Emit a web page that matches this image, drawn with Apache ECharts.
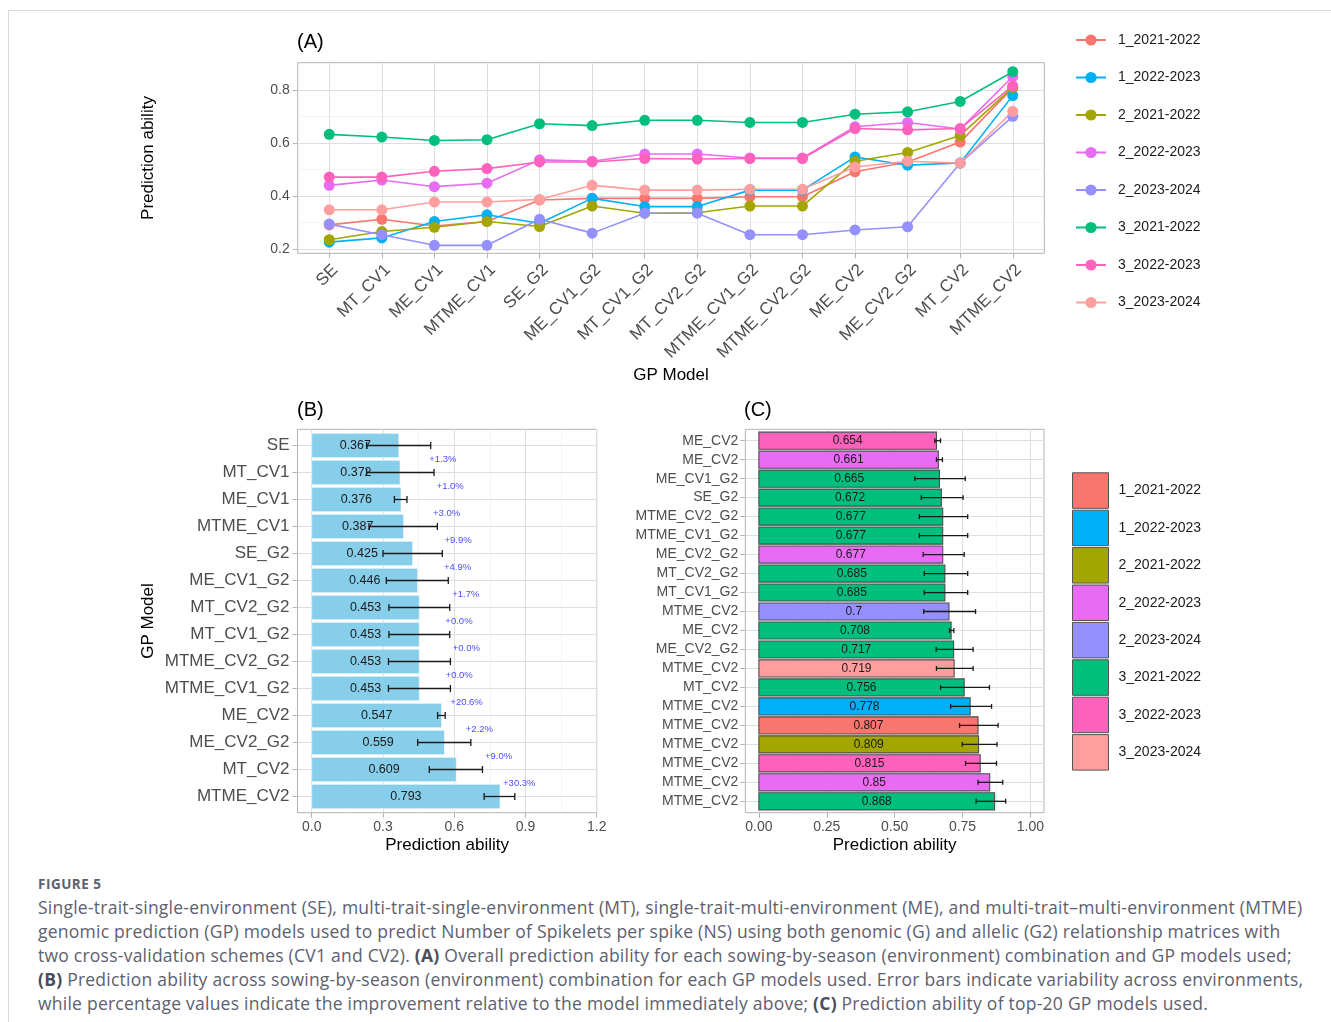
<!DOCTYPE html>
<html>
<head>
<meta charset="utf-8">
<script src="https://cdn.jsdelivr.net/npm/echarts@6/dist/echarts.min.js"></script>
<style>
html,body{margin:0;padding:0;background:#fff;width:1331px;height:1022px;overflow:hidden;}
#frame{position:absolute;left:8px;top:10px;width:1330px;height:1020px;border-top:1px solid #d9d9d9;border-left:1px solid #d9d9d9;}
#chart{position:absolute;left:0;top:0;width:1331px;height:870px;}
#caption{position:absolute;left:38px;top:874px;width:1293px;font-family:"Open Sans",Lato,sans-serif;color:#5d606e;white-space:nowrap;}
#caption .fig{font-size:13.5px;font-weight:bold;letter-spacing:0.5px;line-height:20px;height:21px;color:#5d606e;}
#caption .body{font-size:17.5px;letter-spacing:0.24px;line-height:24px;}
#caption b{font-weight:bold;color:#4a4d5a;}
</style>
</head>
<body>
<div id="frame"></div>
<div id="chart"></div>
<div id="caption">
<div class="fig">FIGURE 5</div>
<div class="body">Single-trait-single-environment (SE), multi-trait-single-environment (MT), single-trait-multi-environment (ME), and multi-trait–multi-environment (MTME)<br>genomic prediction (GP) models used to predict Number of Spikelets per spike (NS) using both genomic (G) and allelic (G2) relationship matrices with<br>two cross-validation schemes (CV1 and CV2). <b>(A)</b> Overall prediction ability for each sowing-by-season (environment) combination and GP models used;<br><b>(B)</b> Prediction ability across sowing-by-season (environment) combination for each GP models used. Error bars indicate variability across environments,<br>while percentage values indicate the improvement relative to the model immediately above; <b>(C)</b> Prediction ability of top-20 GP models used.</div>
</div>
<script>
// ---------------- DATA ----------------
const envs = ['1_2021-2022','1_2022-2023','2_2021-2022','2_2022-2023','2_2023-2024','3_2021-2022','3_2022-2023','3_2023-2024'];
const envColors = ['#F8766D','#00B0F6','#A3A500','#E76BF3','#9590FF','#00BF7D','#FF62BC','#FF9E9E'];

// Panel A
const aModels = ['SE','MT_CV1','ME_CV1','MTME_CV1','SE_G2','ME_CV1_G2','MT_CV1_G2','MT_CV2_G2','MTME_CV1_G2','MTME_CV2_G2','ME_CV2','ME_CV2_G2','MT_CV2','MTME_CV2'];
const a_1_2021_2022 = [0.291,0.312,0.287,0.304,0.385,0.391,0.391,0.391,0.397,0.397,0.491,0.528,0.603,0.807];
const a_1_2022_2023 = [0.226,0.242,0.304,0.329,0.297,0.391,0.360,0.360,0.422,0.422,0.547,0.516,0.524,0.778];
const a_2_2021_2022 = [0.235,0.266,0.282,0.304,0.285,0.362,0.335,0.337,0.362,0.362,0.531,0.564,0.628,0.809];
const a_2_2022_2023 = [0.440,0.460,0.435,0.448,0.536,0.531,0.558,0.558,0.543,0.543,0.661,0.677,0.652,0.850];
const a_2_2023_2024 = [0.294,0.254,0.214,0.214,0.312,0.260,0.335,0.335,0.254,0.254,0.272,0.284,0.524,0.700];
const a_3_2021_2022 = [0.632,0.622,0.609,0.612,0.672,0.665,0.685,0.685,0.677,0.677,0.708,0.717,0.756,0.868];
const a_3_2022_2023 = [0.471,0.471,0.493,0.503,0.528,0.528,0.541,0.539,0.541,0.541,0.654,0.649,0.654,0.815];
const a_3_2023_2024 = [0.348,0.348,0.377,0.377,0.387,0.440,0.422,0.422,0.425,0.425,0.509,0.531,0.524,0.719];
const aValues = [a_1_2021_2022,a_1_2022_2023,a_2_2021_2022,a_2_2022_2023,a_2_2023_2024,a_3_2021_2022,a_3_2022_2023,a_3_2023_2024];
const aYTicks = [0.2,0.4,0.6,0.8];
const aYMinor = [0.3,0.5,0.7];

// Panel B
const bModels = ['SE','MT_CV1','ME_CV1','MTME_CV1','SE_G2','ME_CV1_G2','MT_CV2_G2','MT_CV1_G2','MTME_CV2_G2','MTME_CV1_G2','ME_CV2','ME_CV2_G2','MT_CV2','MTME_CV2'];
const bMean = [0.367,0.372,0.376,0.387,0.425,0.446,0.453,0.453,0.453,0.453,0.547,0.559,0.609,0.793];
const bLow  = [0.231,0.231,0.348,0.241,0.300,0.314,0.325,0.325,0.323,0.323,0.530,0.446,0.495,0.726];
const bHigh = [0.501,0.515,0.401,0.529,0.550,0.575,0.581,0.581,0.584,0.584,0.562,0.670,0.719,0.855];
const bPct  = ['','+1.3%','+1.0%','+3.0%','+9.9%','+4.9%','+1.7%','+0.0%','+0.0%','+0.0%','+20.6%','+2.2%','+9.0%','+30.3%'];
const bPctX = [null,0.552,0.583,0.568,0.616,0.614,0.649,0.620,0.651,0.621,0.652,0.706,0.787,0.874];
const bXTicks = [0,0.3,0.6,0.9,1.2];
const bXMinor = [0.15,0.45,0.75,1.05];

// Panel C
const cModels = ['ME_CV2','ME_CV2','ME_CV1_G2','SE_G2','MTME_CV2_G2','MTME_CV1_G2','ME_CV2_G2','MT_CV2_G2','MT_CV1_G2','MTME_CV2','ME_CV2','ME_CV2_G2','MTME_CV2','MT_CV2','MTME_CV2','MTME_CV2','MTME_CV2','MTME_CV2','MTME_CV2','MTME_CV2'];
const cEnv  = [6,3,5,5,5,5,3,5,5,4,5,5,7,5,1,0,2,6,3,5];
const cVal  = [0.654,0.661,0.665,0.672,0.677,0.677,0.677,0.685,0.685,0.7,0.708,0.717,0.719,0.756,0.778,0.807,0.809,0.815,0.85,0.868];
const cLow  = [0.648,0.654,0.574,0.598,0.591,0.591,0.605,0.609,0.609,0.607,0.702,0.653,0.654,0.669,0.706,0.739,0.749,0.761,0.807,0.800];
const cHigh = [0.669,0.676,0.760,0.752,0.769,0.769,0.756,0.769,0.769,0.798,0.718,0.789,0.789,0.849,0.857,0.881,0.877,0.875,0.898,0.909];
const cXTicks = [0,0.25,0.5,0.75,1];
const cXMinor = [0.125,0.375,0.625,0.875];

// ---------------- STYLE ----------------
const FONT = '"Liberation Sans", Arial, Helvetica, sans-serif';
const MAJOR = '#DEDEDE', MINOR = '#EEEEEE', BORDER = '#B3B3B3', AXT = '#4D4D4D';

function idx(n){ const r=[]; for(let i=0;i<n;i++) r.push(i); return r; }

function majorSplit(){ return {show:true, lineStyle:{color:MAJOR, width:1}}; }
function minorAxis(grid, min, max, vals, pos){
  return {type:'value', gridIndex:grid, min:min, max:max, position:pos,
    axisLine:{show:false}, axisTick:{show:false, customValues:vals}, axisLabel:{show:false, customValues:vals},
    splitLine:{show:true, lineStyle:{color:MINOR, width:0.7}}, z:0};
}

const grids = [
  {left:297.7, top:62.7, width:746.6, height:190.6, show:true, borderColor:BORDER, borderWidth:1},
  {left:297.5, top:429.3, width:299.2, height:383.4, show:true, borderColor:BORDER, borderWidth:1},
  {left:745.3, top:429.3, width:298.7, height:383.4, show:true, borderColor:BORDER, borderWidth:1}
];

const xAxes = [
  { // A
    type:'value', gridIndex:0, min:-0.6, max:aModels.length-1+0.6,
    axisLine:{show:false, onZero:false},
    axisTick:{show:true, customValues:idx(aModels.length), length:5, lineStyle:{color:BORDER}},
    axisLabel:{customValues:idx(aModels.length), formatter:v=>aModels[Math.round(v)], rotate:45, align:'right', verticalAlign:'top',
               fontSize:17, color:AXT, fontFamily:FONT, margin:8},
    splitLine:majorSplit(),
    name:'GP Model', nameLocation:'middle', nameGap:114, nameTextStyle:{fontSize:17, color:'#000', fontFamily:FONT}
  },
  { // B major
    type:'value', gridIndex:1, min:-0.06, max:1.2,
    axisLine:{show:false, onZero:false},
    axisTick:{show:true, customValues:bXTicks, length:5, lineStyle:{color:BORDER}},
    axisLabel:{customValues:bXTicks, formatter:v=>v.toFixed(1), fontSize:14, color:AXT, fontFamily:FONT, margin:7},
    splitLine:majorSplit(),
    name:'Prediction ability', nameLocation:'middle', nameGap:24, nameTextStyle:{fontSize:17, color:'#000', fontFamily:FONT}
  },
  minorAxis(1,-0.06,1.2,bXMinor,'top'),
  { // C major
    type:'value', gridIndex:2, min:-0.05, max:1.05,
    axisLine:{show:false, onZero:false},
    axisTick:{show:true, customValues:cXTicks, length:5, lineStyle:{color:BORDER}},
    axisLabel:{customValues:cXTicks, formatter:v=>v.toFixed(2), fontSize:14, color:AXT, fontFamily:FONT, margin:7},
    splitLine:majorSplit(),
    name:'Prediction ability', nameLocation:'middle', nameGap:24, nameTextStyle:{fontSize:17, color:'#000', fontFamily:FONT}
  },
  minorAxis(2,-0.05,1.05,cXMinor,'top')
];

const yAxes = [
  { // A major
    type:'value', gridIndex:0, min:0.184, max:0.902,
    axisLine:{show:false, onZero:false},
    axisTick:{show:true, customValues:aYTicks, length:5, lineStyle:{color:BORDER}},
    axisLabel:{customValues:aYTicks, formatter:v=>v.toFixed(1), fontSize:14, color:AXT, fontFamily:FONT, margin:8},
    splitLine:majorSplit(),
    name:'Prediction ability', nameLocation:'middle', nameGap:141, nameTextStyle:{fontSize:17, color:'#000', fontFamily:FONT}
  },
  minorAxis(0,0.184,0.902,aYMinor,'right'),
  { // B
    type:'value', gridIndex:1, min:-0.6, max:bModels.length-1+0.6, inverse:true,
    axisLine:{show:false, onZero:false},
    axisTick:{show:true, customValues:idx(bModels.length), length:5, lineStyle:{color:BORDER}},
    axisLabel:{customValues:idx(bModels.length), formatter:v=>bModels[Math.round(v)], fontSize:17, color:AXT, fontFamily:FONT, margin:8},
    splitLine:majorSplit(),
    name:'GP Model', nameLocation:'middle', nameGap:141, nameTextStyle:{fontSize:17, color:'#000', fontFamily:FONT}
  },
  { // C
    type:'value', gridIndex:2, min:-0.6, max:cModels.length-1+0.6, inverse:true,
    axisLine:{show:false, onZero:false},
    axisTick:{show:true, customValues:idx(cModels.length), length:5, lineStyle:{color:BORDER}},
    axisLabel:{customValues:idx(cModels.length), formatter:v=>cModels[Math.round(v)], fontSize:14, color:AXT, fontFamily:FONT, margin:7},
    splitLine:majorSplit()
  }
];

const series = [];
// Panel A lines
envs.forEach((name,k)=>{
  series.push({
    name:name, type:'line', xAxisIndex:0, yAxisIndex:0,
    data: aValues[k].map((v,i)=>[i,v]),
    symbol:'circle', symbolSize:11, showSymbol:true,
    lineStyle:{width:1.6, color:envColors[k]}, itemStyle:{color:envColors[k]},
    emphasis:{disabled:true}, z:3
  });
});

function errorBarRender(params, api){
  const i = api.value(0), lo = api.value(1), hi = api.value(2);
  const a = api.coord([lo, i]), b = api.coord([hi, i]);
  const t = api.coord([lo, i-0.13]), u = api.coord([lo, i+0.13]);
  const hh = (u[1]-t[1])/2;
  const st = {stroke:'#1a1a1a', lineWidth:1.3};
  return {type:'group', children:[
    {type:'line', shape:{x1:a[0], y1:a[1], x2:b[0], y2:b[1]}, style:st},
    {type:'line', shape:{x1:a[0], y1:a[1]-hh, x2:a[0], y2:a[1]+hh}, style:st},
    {type:'line', shape:{x1:b[0], y1:b[1]-hh, x2:b[0], y2:b[1]+hh}, style:st}
  ]};
}

// Panel B bars
series.push({
  type:'custom', xAxisIndex:1, yAxisIndex:2,
  data: bMean.map((v,i)=>[i,v]), encode:{x:1, y:0}, z:3,
  renderItem:(params, api)=>{
    const i = api.value(0), v = api.value(1);
    const p0 = api.coord([0, i-0.45]), p1 = api.coord([v, i+0.45]);
    const c = api.coord([v/2, i]);
    return {type:'group', children:[
      {type:'rect', shape:{x:p0[0], y:p0[1], width:p1[0]-p0[0], height:p1[1]-p0[1]}, style:{fill:'#87CEEB', stroke:'#ffffff', lineWidth:0.6}},
      {type:'text', x:c[0], y:c[1], style:{text:String(v), fill:'#1a1a1a', fontSize:12.5, fontFamily:FONT, align:'center', verticalAlign:'middle'}}
    ]};
  }
});
// Panel B error bars
series.push({
  type:'custom', xAxisIndex:1, yAxisIndex:2,
  data: bLow.map((lo,i)=>[i,lo,bHigh[i]]), encode:{x:[1,2], y:0}, z:5,
  renderItem:errorBarRender
});
// Panel B percentage labels
series.push({
  type:'custom', xAxisIndex:1, yAxisIndex:2,
  data: bPct.map((s,i)=>[i, bPctX[i] === null ? 0 : bPctX[i], s]).filter(d=>d[2] !== ''), encode:{x:1, y:0}, z:6,
  renderItem:(params, api)=>{
    const i = api.value(0), x = api.value(1);
    const p = api.coord([x, i-0.5]);
    return {type:'text', x:p[0], y:p[1], style:{text:bPct[i], fill:'#4D4DFF', fontSize:9.5, fontFamily:FONT, align:'center', verticalAlign:'middle'}};
  }
});

// Panel C bars, one series per environment
envs.forEach((name,k)=>{
  const rows = [];
  cVal.forEach((v,i)=>{ if (cEnv[i] === k) rows.push([i, v]); });
  series.push({
    name:name, type:'custom', xAxisIndex:3, yAxisIndex:3,
    data: rows, encode:{x:1, y:0}, z:3, itemStyle:{color:envColors[k]},
    renderItem:(params, api)=>{
      const i = api.value(0), v = api.value(1);
      const p0 = api.coord([0, i-0.45]), p1 = api.coord([v, i+0.45]);
      const c = api.coord([v/2, i]);
      return {type:'group', children:[
        {type:'rect', shape:{x:p0[0], y:p0[1], width:p1[0]-p0[0], height:p1[1]-p0[1]}, style:{fill:envColors[k], stroke:'#4D4D4D', lineWidth:1.1}},
        {type:'text', x:c[0], y:c[1], style:{text:String(v), fill:'#1a1a1a', fontSize:12, fontFamily:FONT, align:'center', verticalAlign:'middle'}}
      ]};
    }
  });
});
// Panel C error bars
series.push({
  type:'custom', xAxisIndex:3, yAxisIndex:3,
  data: cLow.map((lo,i)=>[i,lo,cHigh[i]]), encode:{x:[1,2], y:0}, z:5,
  renderItem:errorBarRender
});

const option = {
  animation:false,
  backgroundColor:'transparent',
  textStyle:{fontFamily:FONT},
  title:[
    {text:'(A)', left:297, top:32, padding:0, textStyle:{fontSize:20, fontWeight:'normal', color:'#000', fontFamily:FONT}},
    {text:'(B)', left:297, top:400, padding:0, textStyle:{fontSize:20, fontWeight:'normal', color:'#000', fontFamily:FONT}},
    {text:'(C)', left:744, top:400, padding:0, textStyle:{fontSize:20, fontWeight:'normal', color:'#000', fontFamily:FONT}}
  ],
  legend:[
    {data:envs, orient:'vertical', left:1075, top:33, padding:0, itemWidth:30, itemHeight:14, itemGap:23.5,
     textStyle:{fontSize:14, color:'#1a1a1a', fontFamily:FONT, padding:[0,0,0,7]}, selectedMode:false},
    {data:envs, orient:'vertical', left:1072, top:472.3, padding:0, itemWidth:36, itemHeight:35.5, itemGap:0.9, icon:'rect',
     itemStyle:{borderColor:'#555555', borderWidth:1},
     textStyle:{fontSize:14, color:'#1a1a1a', fontFamily:FONT, padding:[0,0,0,5]}, selectedMode:false}
  ],
  grid:grids,
  xAxis:xAxes,
  yAxis:yAxes,
  series:series
};

const chart = echarts.init(document.getElementById('chart'), null, {renderer:'canvas'});
chart.setOption(option);
</script>
</body>
</html>
